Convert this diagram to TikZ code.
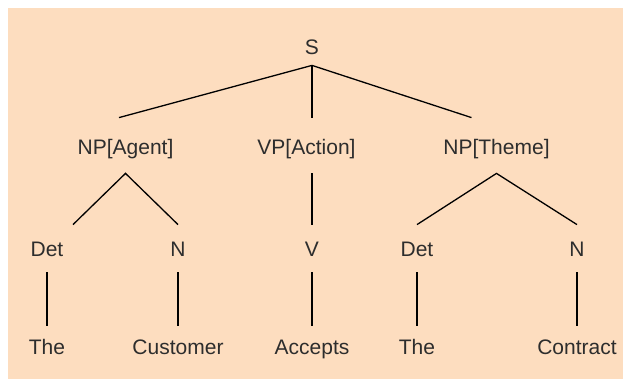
\documentclass[tikz,border=0pt]{standalone}
\usepackage{fontspec}
\setmainfont{Liberation Sans}
\usepackage{xcolor}
\usepackage{tikz}
\usetikzlibrary{positioning}
\definecolor{peach}{RGB}{253,221,191}
\definecolor{inkgray}{RGB}{45,45,45}

\begin{document}
\begin{tikzpicture}[
      x=0.5pt, y=-0.5pt,
      font=\fontsize{10.5}{12}\selectfont,
      lbl/.style={anchor=base, inner sep=0pt, text=inkgray},
      phrase/.style={lbl, text height=18.25pt, text depth=9.25pt},
      cat/.style={lbl, text height=16pt, text depth=7.5pt},
      word/.style={lbl, text height=14.5pt, text depth=3pt},
      branch/.style={draw=black, line width=0.65pt}
    ]
    \useasboundingbox (0,0) rectangle (623,379);
    \fill[peach] (8,8) rectangle (623,379);

    % root and phrases
    \node[lbl, text depth=5pt] (s) at (312,55) {S};
    \node[phrase] (npa) at (125.5,154.5) {NP[Agent]};
    \node[phrase] (vpa) at (306.5,154.5) {VP[Action]};
    \node[phrase] (npt) at (496.5,154.5) {NP[Theme]};

    % categories
    \node[cat] (det1) at (47,257) {Det};
    \node[cat] (n1) at (178,257) {N};
    \node[cat] (v) at (312,257) {V};
    \node[cat] (det2) at (417,257) {Det};
    \node[cat] (n2) at (577,257) {N};

    % words
    \node[word] (the1) at (47,355) {The};
    \node[word] (cust) at (178,355) {Customer};
    \node[word] (acc) at (312,355) {Accepts};
    \node[word] (the2) at (417,355) {The};
    \node[word] (contr) at (577,355) {Contract};

    \draw[branch] (s.south) -- ([xshift=-3.25pt]npa.north);
    \draw[branch] (s.south) -- ([xshift=2.75pt]vpa.north);
    \draw[branch] (s.south) -- ([xshift=-12.5pt]npt.north);

    \draw[branch] ([xshift=13pt]det1.north) -- (npa.south) -- (n1.north);
    \draw[branch] ([xshift=2.75pt]vpa.south) -- (v.north);
    \draw[branch] (det2.north) -- (npt.south) -- (n2.north);

    \draw[branch] (det1.south) -- (the1.north);
    \draw[branch] (n1.south) -- (cust.north);
    \draw[branch] (v.south) -- (acc.north);
    \draw[branch] (det2.south) -- (the2.north);
    \draw[branch] (n2.south) -- (contr.north);
  \end{tikzpicture}
\end{document}
